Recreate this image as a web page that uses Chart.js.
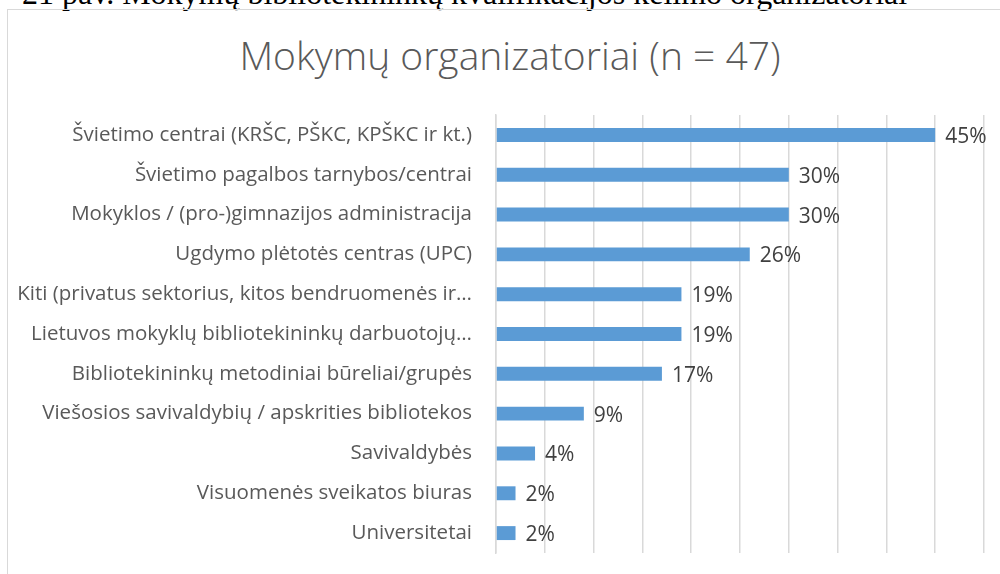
<!DOCTYPE html>
<html>
<head>
<meta charset="utf-8">
<script src="https://cdn.jsdelivr.net/npm/chart.js@4.4.1/dist/chart.umd.min.js"></script>
<style>
    body { margin: 0; background: #fff; overflow: hidden; }
    .caption {
        position: absolute; left: 22px; top: -23px;
        font-family: "Liberation Serif", serif; font-size: 32px; line-height: 32px;
        color: #000; white-space: nowrap;
    }
    .frame {
        position: absolute; left: 7px; top: 9px; width: 1100px; height: 700px;
        border: 1px solid #d9d9d9; box-sizing: border-box;
    }
    .chart-title {
        position: absolute; left: 7px; top: 32px; width: 1006px;
        text-align: center; white-space: nowrap;
        font-family: "Open Sans", sans-serif; font-size: 39px; font-weight: 300;
        line-height: 46px; color: #595959;
    }
    .chart-box { position: absolute; left: 0; top: 0; width: 1000px; height: 574px; }
</style>
</head>
<body>
<div class="caption">21 pav. Mokymų bibliotekininkų kvalifikacijos kėlimo organizatoriai</div>
<div class="frame"></div>
<div class="chart-title">Mokymų organizatoriai (n = 47)</div>
<div class="chart-box"><canvas id="orgChart"></canvas></div>

<script>
// ===============================
// Data
// ===============================

const categories = [
    "Švietimo centrai (KRŠC, PŠKC, KPŠKC ir kt.)",
    "Švietimo pagalbos tarnybos/centrai",
    "Mokyklos / (pro-)gimnazijos administracija",
    "Ugdymo plėtotės centras (UPC)",
    "Kiti (privatus sektorius, kitos bendruomenės ir…",
    "Lietuvos mokyklų bibliotekininkų darbuotojų…",
    "Bibliotekininkų metodiniai būreliai/grupės",
    "Viešosios savivaldybių / apskrities bibliotekos",
    "Savivaldybės",
    "Visuomenės sveikatos biuras",
    "Universitetai"
];

const percentValues = [45, 30, 30, 26, 19, 19, 17, 9, 4, 2, 2];

const axisMax = 50;
const axisStep = 5;

const textColor = "#595959";
const fontFamily = "'Open Sans', sans-serif";

// value labels at the end of each bar
const barLabels = {
    id: "barLabels",
    afterDatasetsDraw(chart) {
        const ctx = chart.ctx;
        const meta = chart.getDatasetMeta(0);
        ctx.save();
        ctx.font = "21px " + fontFamily;
        ctx.fillStyle = "#404040";
        ctx.textAlign = "left";
        ctx.textBaseline = "middle";
        meta.data.forEach((bar, i) => {
            ctx.fillText(percentValues[i] + "%", bar.x + 10, bar.y + 2);
        });
        ctx.restore();
    }
};

const orgChart = document.getElementById("orgChart");

new Chart(orgChart, {
    type: "bar",
    data: {
        labels: categories,
        datasets: [{
            data: percentValues,
            backgroundColor: "#5b9bd5",
            borderWidth: 0,
            barPercentage: 0.7,
            categoryPercentage: 0.5
        }]
    },
    options: {
        indexAxis: "y",
        responsive: true,
        maintainAspectRatio: false,
        animation: false,
        layout: {
            padding: { left: 0, right: 16, top: 115, bottom: 21 }
        },
        plugins: {
            legend: { display: false },
            tooltip: { enabled: false },
            title: { display: false }
        },
        scales: {
            x: {
                min: 0,
                max: axisMax,
                ticks: { display: false, stepSize: axisStep },
                grid: { color: "#d9d9d9", lineWidth: 1.5, drawTicks: false },
                border: { display: false },
                afterFit(scale) { scale.height = 0; }
            },
            y: {
                ticks: {
                    color: textColor,
                    padding: 24,
                    font: { family: fontFamily, size: 20.5 }
                },
                grid: { display: false, drawTicks: false },
                border: { display: true, color: "#d9d9d9", width: 1.5 },
                afterFit(scale) {
                    scale.width = 496;
                    scale.paddingTop = 0;
                    scale.paddingBottom = 0;
                }
            }
        }
    },
    plugins: [barLabels]
});
</script>
</body>
</html>
